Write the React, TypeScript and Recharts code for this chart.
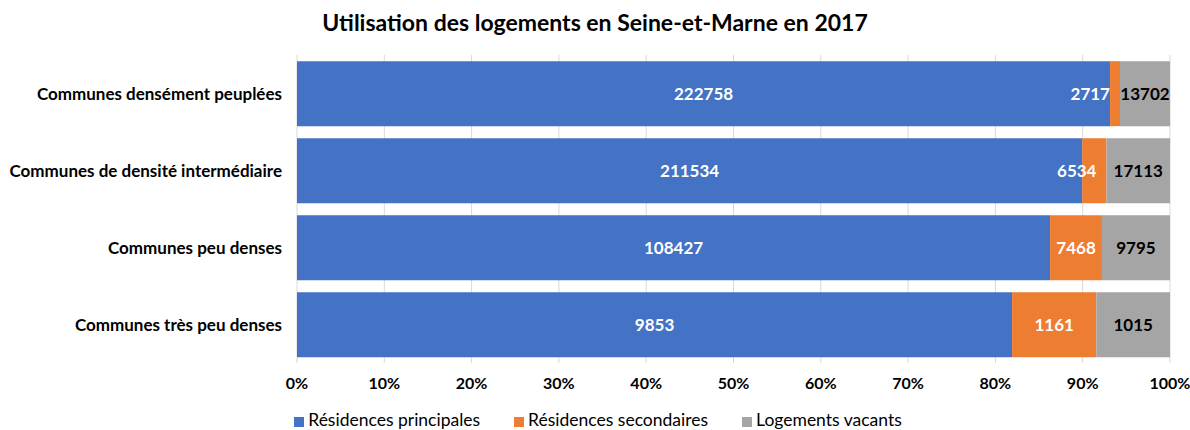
import React from "react";
import {
  Bar, BarChart, CartesianGrid, LabelList, Legend, XAxis, YAxis,
} from "recharts";

const categories = [
  "Communes densément peuplées",
  "Communes de densité intermédiaire",
  "Communes peu denses",
  "Communes très peu denses",
];
const principales = [222758, 211534, 108427, 9853];
const secondaires = [2717, 6534, 7468, 1161];
const vacants = [13702, 17113, 9795, 1015];
const xTicks = [0, 0.1, 0.2, 0.3, 0.4, 0.5, 0.6, 0.7, 0.8, 0.9, 1];
const legendOrder = ["principales", "secondaires", "vacants"];

const COLORS = { blue: "#4472C4", orange: "#ED7D31", gray: "#A5A5A5", grid: "#D9D9D9" };
const FONT = "Lato, 'Open Sans', sans-serif";

const data = categories.map((name, i) => ({
  name,
  principales: principales[i],
  secondaires: secondaires[i],
  vacants: vacants[i],
}));

// centered label; if the segment is too narrow, push it left so it ends inside the bar
function makeLabel(fill: string) {
  return (props: any) => {
    const { x, y, width, height, value } = props;
    const textW = String(value).length * 10;
    let cx = x + width / 2;
    let anchor: "middle" | "end" = "middle";
    if (width < textW && fill === "#fff") {
      cx = x + width - 10;
      anchor = "end";
    } else if (width < textW) {
      cx = x + width / 2 + 8;
    }
    return (
      <text x={cx} y={y + height / 2} fill={fill} textAnchor={anchor} dominantBaseline="central"
        style={{ fontSize: 17, fontWeight: 700, fontFamily: FONT }}>
        {value}
      </text>
    );
  };
}

export default function App() {
  return (
    <div style={{ position: "absolute", left: 0, top: 0, width: 1190, height: 430, background: "#fff", fontFamily: FONT }}>
      <div style={{ position: "absolute", top: 8, left: 0, width: 1190, textAlign: "center", fontSize: 23, fontWeight: 700, color: "#000" }}>
        Utilisation des logements en Seine-et-Marne en 2017
      </div>
      <BarChart
        width={1190} height={430} data={data} layout="vertical" stackOffset="expand"
        margin={{ top: 55, right: 20, left: 0, bottom: 6 }} barCategoryGap="8%"
      >
        <CartesianGrid horizontal={false} stroke={COLORS.grid} />
        <XAxis
          type="number" domain={[0, 1]} ticks={xTicks} axisLine={false} tickLine={false}
          tickFormatter={(v) => `${Math.round(v * 100)}%`} tickMargin={9} height={40}
          tick={{ fill: "#000", fontSize: 16, fontWeight: 700, fontFamily: FONT }}
        />
        <YAxis
          type="category" dataKey="name" width={297} axisLine={false} tickLine={false}
          tickSize={0} tickMargin={15}
          tick={{ fill: "#000", fontSize: 17, fontWeight: 700, fontFamily: FONT }}
        />
        <Legend
          verticalAlign="bottom" iconType="square" iconSize={10}
          itemSorter={(item: any) => legendOrder.indexOf(item.dataKey)}
          wrapperStyle={{ fontSize: 17.5, fontFamily: FONT, color: "#000", bottom: 0, left: 30 }}
          formatter={(v) => <span style={{ color: "#000", marginRight: 24 }}>{v}</span>}
        />
        <Bar dataKey="principales" name="Résidences principales" stackId="a" fill={COLORS.blue} isAnimationActive={false}>
          <LabelList dataKey="principales" content={makeLabel("#fff")} />
        </Bar>
        <Bar dataKey="secondaires" name="Résidences secondaires" stackId="a" fill={COLORS.orange} isAnimationActive={false}>
          <LabelList dataKey="secondaires" content={makeLabel("#fff")} />
        </Bar>
        <Bar dataKey="vacants" name="Logements vacants" stackId="a" fill={COLORS.gray} isAnimationActive={false}>
          <LabelList dataKey="vacants" content={makeLabel("#000")} />
        </Bar>
      </BarChart>
    </div>
  );
}
